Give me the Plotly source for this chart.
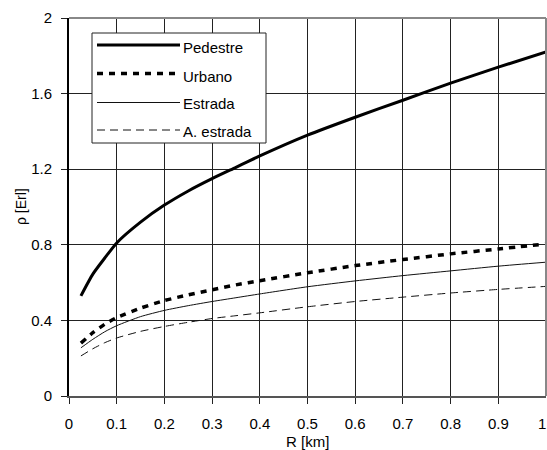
import plotly.graph_objects as go

R_km = [0.025, 0.05, 0.075, 0.1, 0.15, 0.2, 0.25, 0.3, 0.35, 0.4, 0.5, 0.6, 0.7, 0.8, 0.9, 1.0]
pedestre = [0.53, 0.645, 0.73, 0.81, 0.92, 1.01, 1.085, 1.15, 1.21, 1.27, 1.38, 1.475, 1.565, 1.655, 1.74, 1.82]
urbano = [0.28, 0.335, 0.38, 0.415, 0.465, 0.505, 0.535, 0.562, 0.588, 0.61, 0.652, 0.69, 0.722, 0.752, 0.778, 0.805]
estrada = [0.255, 0.30, 0.34, 0.372, 0.42, 0.453, 0.478, 0.50, 0.52, 0.54, 0.578, 0.609, 0.637, 0.662, 0.687, 0.708]
a_estrada = [0.212, 0.25, 0.282, 0.307, 0.342, 0.368, 0.39, 0.41, 0.425, 0.44, 0.472, 0.50, 0.523, 0.545, 0.564, 0.58]

series_names = ["Pedestre", "Urbano", "Estrada", "A. estrada"]
series_vals = [pedestre, urbano, estrada, a_estrada]
styles = [
    dict(color="#000000", width=3, dash="solid"),
    dict(color="#000000", width=3.5, dash="6px,6px"),
    dict(color="#111111", width=1, dash="solid"),
    dict(color="#111111", width=1, dash="8px,5px"),
]

x_ticks = [0, 0.1, 0.2, 0.3, 0.4, 0.5, 0.6, 0.7, 0.8, 0.9, 1]
x_tick_text = ["0", "0.1", "0.2", "0.3", "0.4", "0.5", "0.6", "0.7", "0.8", "0.9", "1"]
y_ticks = [0, 0.4, 0.8, 1.2, 1.6, 2]
y_tick_text = ["0", "0.4", "0.8", "1.2", "1.6", "2"]

FONT = "Liberation Sans, Arial, sans-serif"
W, H = 547, 450
ML, MR, MT, MB = 69, 1, 18, 54
PW, PH = W - ML - MR, H - MT - MB

def px2paper(px, py):
    return (px - ML) / PW, (H - MB - py) / PH

fig = go.Figure()
for name, vals, st in zip(series_names, series_vals, styles):
    fig.add_trace(go.Scatter(x=R_km, y=vals, mode="lines", name=name,
                             line=dict(shape="spline", smoothing=0.6, **st),
                             showlegend=False))

shapes = []
# frame top & right
shapes.append(dict(type="line", xref="paper", yref="paper", x0=0, x1=1, y0=1, y1=1,
                   line=dict(color="#888888", width=2)))
shapes.append(dict(type="line", xref="paper", yref="paper", x0=1, x1=1, y0=0, y1=1,
                   line=dict(color="#888888", width=2)))

# custom legend
bx0, by0 = px2paper(92, 33)
bx1, by1 = px2paper(266, 143)
shapes.append(dict(type="rect", xref="paper", yref="paper", x0=bx0, x1=bx1, y0=by1, y1=by0,
                   line=dict(color="#222222", width=1), fillcolor="white", layer="above"))
annotations = []
line_ys = [45, 73.5, 102.5, 130]
text_ys = [47, 76, 103, 131]
for name, st, ly, ty in zip(series_names, styles, line_ys, text_ys):
    lx0, lyp = px2paper(97, ly)
    lx1, _ = px2paper(180, ly)
    shapes.append(dict(type="line", xref="paper", yref="paper", x0=lx0, x1=lx1, y0=lyp, y1=lyp,
                       line=st, layer="above"))
    tx, typ = px2paper(181, ty)
    annotations.append(dict(text=name, xref="paper", yref="paper", x=tx, y=typ,
                            xanchor="left", yanchor="middle", showarrow=False,
                            font=dict(family=FONT, size=15, color="black")))

# last x tick label, kept inside the page edge
annotations.append(dict(text=x_tick_text[-1], xref="x", yref="paper", x=x_ticks[-1], y=0,
                        xanchor="right", yanchor="middle", yshift=-27, xshift=2,
                        showarrow=False, font=dict(family=FONT, size=15, color="black")))

# axis titles
annotations.append(dict(text="ρ [Erl]", xref="paper", yref="paper", x=0, y=0.5,
                        xanchor="center", yanchor="middle", xshift=-48, textangle=-90,
                        showarrow=False, font=dict(family=FONT, size=14, color="black")))
annotations.append(dict(text="R [km]", xref="paper", yref="paper", x=0.5, y=0,
                        xanchor="center", yanchor="middle", yshift=-45,
                        showarrow=False, font=dict(family=FONT, size=15, color="black")))

fig.update_layout(
    width=W, height=H,
    margin=dict(l=ML, r=MR, t=MT, b=MB, autoexpand=False),
    paper_bgcolor="white", plot_bgcolor="white",
    font=dict(family=FONT, size=15, color="black"),
    shapes=shapes, annotations=annotations,
    xaxis=dict(range=[0, 1], tickvals=x_ticks[:-1], ticktext=x_tick_text[:-1],
               showgrid=True, gridcolor="#222222", gridwidth=1,
               showline=True, linecolor="#555555", linewidth=2,
               ticks="outside", ticklen=6, tickcolor="#222222", tickwidth=1,
               ticklabelstandoff=7, automargin=False,
               zeroline=False, fixedrange=True),
    yaxis=dict(range=[0, 2], tickvals=y_ticks, ticktext=y_tick_text,
               showgrid=True, gridcolor="#222222", gridwidth=1,
               showline=True, linecolor="#000000", linewidth=2,
               ticks="outside", ticklen=6, tickcolor="#222222", tickwidth=1,
               ticklabelstandoff=6, automargin=False,
               zeroline=False, fixedrange=True),
)

fig.write_html("out.html", config={"displayModeBar": False})
